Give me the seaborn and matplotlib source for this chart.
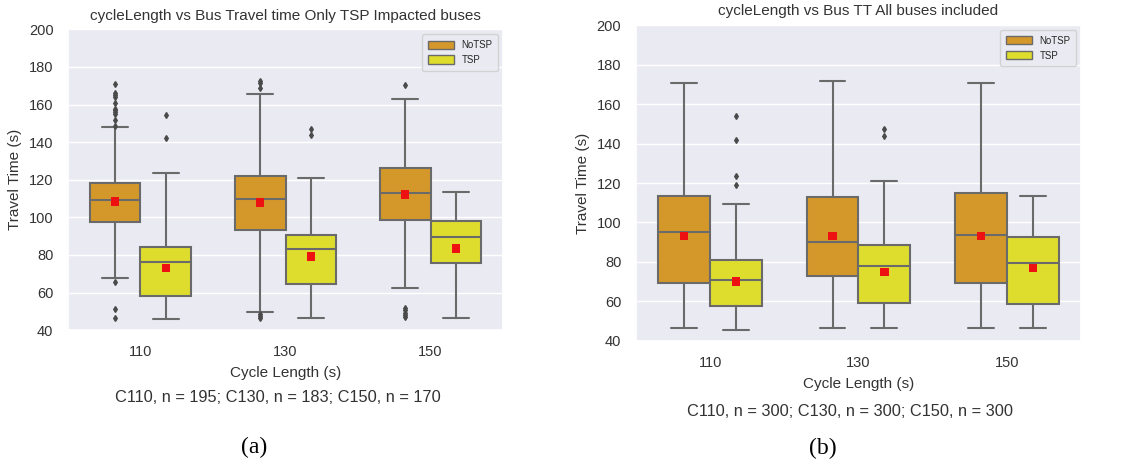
import matplotlib
matplotlib.use("Agg")
import matplotlib.pyplot as plt
from matplotlib.patches import Patch
import seaborn as sns

# ---------------- data ----------------
cycles = ["110", "130", "150"]
groups = ["NoTSP", "TSP"]

# Panel (a): only TSP impacted buses
a_notsp_whislo = [67.5, 49.5, 62.2]
a_notsp_q1 = [97.7, 93.2, 98.4]
a_notsp_med = [109.4, 109.5, 113.0]
a_notsp_q3 = [118.1, 122.1, 126.0]
a_notsp_whishi = [147.9, 165.6, 163.0]
a_notsp_mean = [108.5, 107.9, 112.2]
a_notsp_fliers = [
    [170.8, 166.3, 165.3, 164.0, 161.0, 157.8, 157.0, 156.0, 155.0, 151.8, 148.8, 65.8, 51.1, 46.6],
    [172.3, 171.3, 168.8, 48.6, 47.6, 46.6],
    [170.4, 51.8, 50.6, 49.3, 48.1, 46.8],
]
a_tsp_whislo = [46.0, 46.5, 46.5]
a_tsp_q1 = [57.9, 64.3, 75.9]
a_tsp_med = [76.3, 83.4, 89.3]
a_tsp_q3 = [84.3, 90.7, 98.2]
a_tsp_whishi = [123.4, 121.1, 113.5]
a_tsp_mean = [73.2, 79.1, 83.4]
a_tsp_fliers = [[154.5, 142.2], [147.1, 143.8], []]

# Panel (b): all buses included
b_notsp_whislo = [46.6, 46.6, 46.6]
b_notsp_q1 = [69.2, 73.1, 69.2]
b_notsp_med = [95.3, 90.1, 93.6]
b_notsp_q3 = [113.6, 112.8, 115.1]
b_notsp_whishi = [170.6, 171.9, 170.6]
b_notsp_mean = [93.1, 93.1, 93.1]
b_notsp_fliers = [[], [], []]
b_tsp_whislo = [45.7, 46.6, 46.6]
b_tsp_q1 = [57.6, 59.2, 58.5]
b_tsp_med = [70.8, 78.2, 79.7]
b_tsp_q3 = [81.2, 88.4, 92.9]
b_tsp_whishi = [109.2, 121.0, 113.6]
b_tsp_mean = [70.1, 75.1, 76.8]
b_tsp_fliers = [[154.1, 141.7, 123.4, 118.8], [147.2, 143.9], []]

titles = ["cycleLength vs Bus Travel time Only TSP Impacted buses",
          "cycleLength vs Bus TT All buses included"]
captions = ["C110, n = 195; C130, n = 183; C150, n = 170",
            "C110, n = 300; C130, n = 300; C150, n = 300"]
panel_tags = ["(a)", "(b)"]
x_label = "Cycle Length (s)"
y_label = "Travel Time (s)"
y_ticks = [40, 60, 80, 100, 120, 140, 160, 180, 200]

# ---------------- style ----------------
sns.set_theme(style="darkgrid")
plt.rcParams["font.family"] = ["Liberation Sans", "DejaVu Sans"]

COLORS = {"NoTSP": "#d4982a", "TSP": "#dedd2e"}
EDGE = "#6a6a6a"
BOX_W = 0.35

fig = plt.figure(figsize=(11.33, 4.65), dpi=100)
axes_rects = [[0.060, 0.290, 0.384, 0.647], [0.5613, 0.2667, 0.3928, 0.6795]]


def make_stats(whislo, q1, med, q3, whishi, mean, fliers):
    out = []
    for i in range(len(whislo)):
        out.append(dict(whislo=whislo[i], q1=q1[i], med=med[i], q3=q3[i],
                        whishi=whishi[i], mean=mean[i], fliers=fliers[i]))
    return out


panels = [
    {
        "NoTSP": make_stats(a_notsp_whislo, a_notsp_q1, a_notsp_med, a_notsp_q3,
                            a_notsp_whishi, a_notsp_mean, a_notsp_fliers),
        "TSP": make_stats(a_tsp_whislo, a_tsp_q1, a_tsp_med, a_tsp_q3,
                          a_tsp_whishi, a_tsp_mean, a_tsp_fliers),
    },
    {
        "NoTSP": make_stats(b_notsp_whislo, b_notsp_q1, b_notsp_med, b_notsp_q3,
                            b_notsp_whishi, b_notsp_mean, b_notsp_fliers),
        "TSP": make_stats(b_tsp_whislo, b_tsp_q1, b_tsp_med, b_tsp_q3,
                          b_tsp_whishi, b_tsp_mean, b_tsp_fliers),
    },
]

offsets = {"NoTSP": -BOX_W / 2, "TSP": BOX_W / 2}

for p, (rect, pdata) in enumerate(zip(axes_rects, panels)):
    ax = fig.add_axes(rect)
    for g in groups:
        stats = pdata[g]
        pos = [i + offsets[g] for i in range(len(cycles))]
        ax.bxp(stats, positions=pos, widths=BOX_W, patch_artist=True,
               showmeans=False, manage_ticks=False,
               boxprops=dict(facecolor=COLORS[g], edgecolor=EDGE, linewidth=1.5),
               medianprops=dict(color=EDGE, linewidth=1.5),
               whiskerprops=dict(color=EDGE, linewidth=1.5),
               capprops=dict(color=EDGE, linewidth=1.5),
               flierprops=dict(marker="d", markersize=3, markerfacecolor="#4a4a4a",
                               markeredgecolor="#4a4a4a"))
        sns.scatterplot(x=pos, y=[s["mean"] for s in stats], marker="s", s=36,
                        color="#ee1111", edgecolor="none", ax=ax, zorder=5)

    ax.set_xlim(-0.5, len(cycles) - 0.5)
    ax.set_xticks(range(len(cycles)))
    ax.set_xticklabels(cycles)
    ax.set_ylim(40, 200)
    ax.set_yticks(y_ticks)
    ax.xaxis.grid(False)
    ax.tick_params(axis="both", labelsize=10.5, pad=4.5, colors="#333333")
    ax.set_xlabel(x_label, fontsize=11, color="#333333", labelpad=5)
    ax.set_ylabel(y_label, fontsize=11, color="#333333", labelpad=5)
    ax.set_title(titles[p], fontsize=11, color="#333333", pad=7)

    handles = [Patch(facecolor=COLORS[g], edgecolor=EDGE, label=g) for g in groups]
    ax.legend(handles=handles, loc="upper right", fontsize=7, handlelength=2.6,
              handleheight=0.9, frameon=True, borderpad=0.6)

# captions
fig.text(278 / 1133, 1 - 397 / 465, captions[0], ha="center", va="center",
         fontsize=11.8, color="#333333")
fig.text(850 / 1133, 1 - 411 / 465, captions[1], ha="center", va="center",
         fontsize=11.8, color="#333333")
fig.text(254 / 1133, 1 - 447 / 465, panel_tags[0], ha="center", va="center",
         fontsize=17, family="Liberation Serif", color="black")
fig.text(823 / 1133, 1 - 448 / 465, panel_tags[1], ha="center", va="center",
         fontsize=17, family="Liberation Serif", color="black")

fig.savefig("out.png", dpi=100, facecolor="white")
